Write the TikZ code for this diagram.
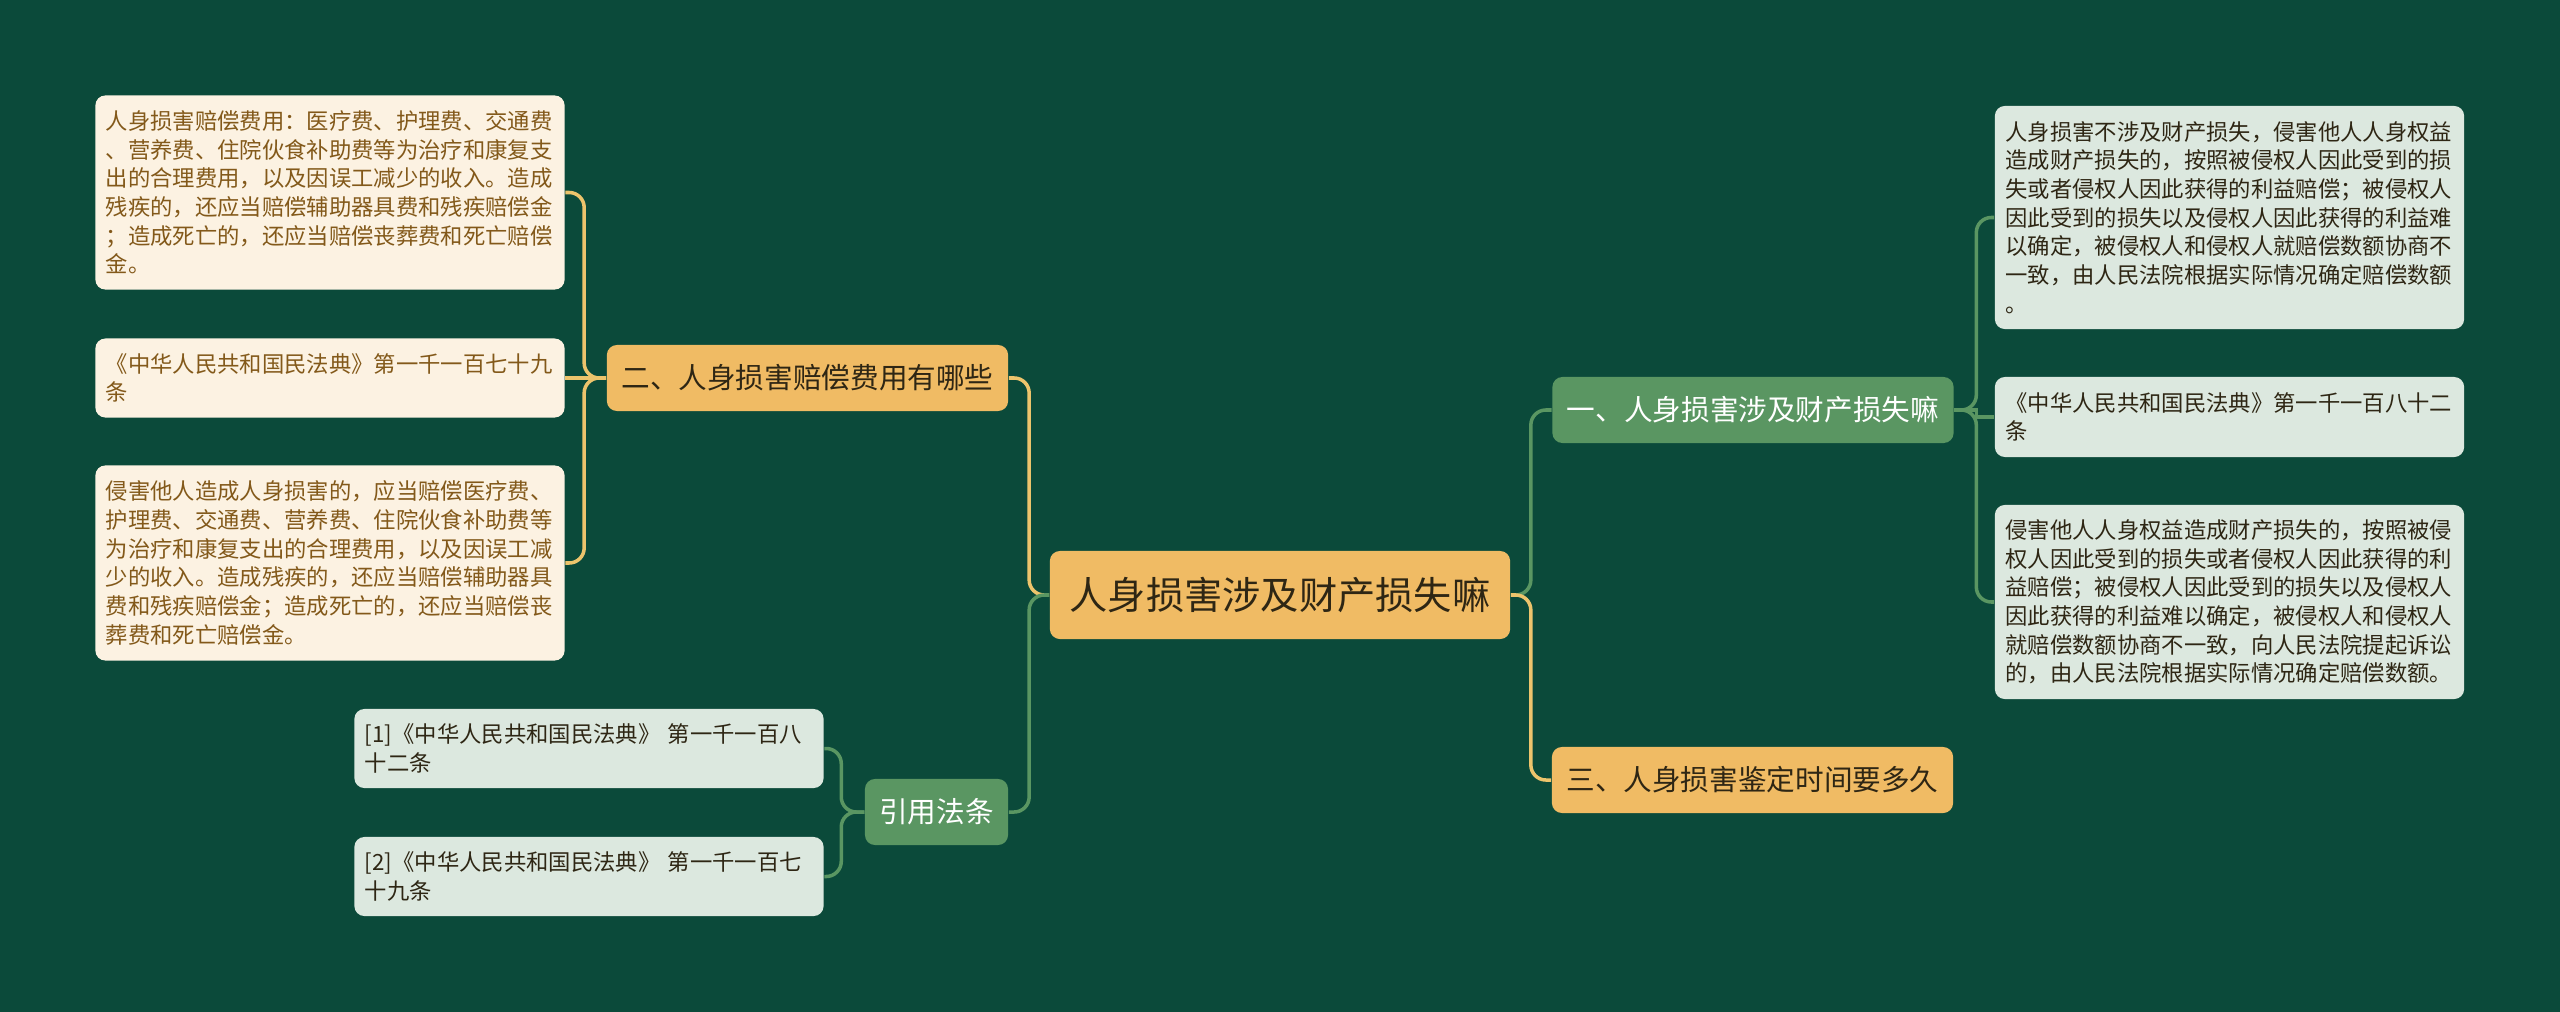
\documentclass[tikz,border=0pt]{standalone}
\usepackage{fontspec}
\setmainfont{Noto Sans CJK SC}
\definecolor{bgcol}{HTML}{0B4A3A}
\definecolor{orangecol}{HTML}{F0BB64}
\definecolor{greencol}{HTML}{5A9662}
\definecolor{creamcol}{HTML}{FCF2E2}
\definecolor{palecol}{HTML}{DCE8DF}
\definecolor{browntext}{HTML}{83591A}
\definecolor{darktext}{HTML}{2E2614}
\definecolor{yellowline}{HTML}{EDC46C}

\begin{document}
\begin{tikzpicture}[x=0.01cm, y=-0.01cm,
		box/.style={rounded corners=0.1cm, inner sep=0pt, align=center},
		rootbox/.style={box, fill=orangecol, text=darktext, minimum width=4.6cm, minimum height=0.88cm, font=\fontsize{10.87}{13}\selectfont},
		orangebox/.style={box, fill=orangecol, text=darktext, minimum width=4.01cm, minimum height=0.66cm, font=\fontsize{8.14}{10}\selectfont},
		greenbox/.style={box, fill=greencol, text=white, minimum width=4.01cm, minimum height=0.66cm, font=\fontsize{8.14}{10}\selectfont},
		leafbox/.style={rounded corners=0.1cm, inner xsep=0.105cm, inner ysep=0pt, text width=4.48cm, align=left, font=\fontsize{6.35}{8.15}\selectfont},
		creamleaf/.style={leafbox, fill=creamcol, text=browntext},
		paleleaf/.style={leafbox, fill=palecol, text=darktext},
		yellowlink/.style={draw=yellowline, line width=1pt, rounded corners=0.15cm},
		greenlink/.style={draw=greencol, line width=1pt, rounded corners=0.15cm}]
		\fill [bgcol] (0,0) rectangle (2560,1012);
		\useasboundingbox (0,0) rectangle (2560,1012);

		\node (root) at (1280,595) [rootbox] {人身损害涉及财产损失嘛};

		\node (costs) at (807.5,378) [orangebox] {二、人身损害赔偿费用有哪些};
		\node (cite) at (936.5,812) [greenbox, minimum width=1.43cm] {引用法条};
		\node (loss) at (1753,410) [greenbox] {一、人身损害涉及财产损失嘛};
		\node (time) at (1752.5,780) [orangebox] {三、人身损害鉴定时间要多久};

		\node (costa) at (330,192.5) [creamleaf, minimum height=1.94cm] {人身损害赔偿费用：医疗费、护理费、交通费\\、营养费、住院伙食补助费等为治疗和康复支\\出的合理费用，以及因误工减少的收入。造成\\残疾的，还应当赔偿辅助器具费和残疾赔偿金\\；造成死亡的，还应当赔偿丧葬费和死亡赔偿\\金。};
		\node (costb) at (330,378) [creamleaf, minimum height=0.79cm] {《中华人民共和国民法典》第一千一百七十九\\条};
		\node (costc) at (330,563) [creamleaf, minimum height=1.95cm] {侵害他人造成人身损害的，应当赔偿医疗费、\\护理费、交通费、营养费、住院伙食补助费等\\为治疗和康复支出的合理费用，以及因误工减\\少的收入。造成残疾的，还应当赔偿辅助器具\\费和残疾赔偿金；造成死亡的，还应当赔偿丧\\葬费和死亡赔偿金。};

		\node (citea) at (589,748.5) [paleleaf, minimum height=0.79cm] {[1]《中华人民共和国民法典》 第一千一百八\\十二条};
		\node (citeb) at (589,876.5) [paleleaf, minimum height=0.79cm] {[2]《中华人民共和国民法典》 第一千一百七\\十九条};

		\node (lossa) at (2229.5,217.5) [paleleaf, minimum height=2.23cm] {人身损害不涉及财产损失，侵害他人人身权益\\造成财产损失的，按照被侵权人因此受到的损\\失或者侵权人因此获得的利益赔偿；被侵权人\\因此受到的损失以及侵权人因此获得的利益难\\以确定，被侵权人和侵权人就赔偿数额协商不\\一致，由人民法院根据实际情况确定赔偿数额\\。};
		\node (lossb) at (2229.5,417) [paleleaf, minimum height=0.80cm] {《中华人民共和国民法典》第一千一百八十二\\条};
		\node (lossc) at (2229.5,602) [paleleaf, minimum height=1.94cm] {侵害他人人身权益造成财产损失的，按照被侵\\权人因此受到的损失或者侵权人因此获得的利\\益赔偿；被侵权人因此受到的损失以及侵权人\\因此获得的利益难以确定，被侵权人和侵权人\\就赔偿数额协商不一致，向人民法院提起诉讼\\的，由人民法院根据实际情况确定赔偿数额。};

		\draw [yellowlink] (root.west) -- ++(-20,0) |- (costs.east);
		\draw [greenlink] (root.west) -- ++(-20,0) |- (cite.east);
		\draw [greenlink] (root.east) -- ++(20,0) |- (loss.west);
		\draw [yellowlink] (root.east) -- ++(20,0) |- (time.west);

		\draw [yellowlink] (costs.west) -- ++(-22,0) |- (costa.east);
		\draw [yellowlink] (costs.west) -- (costb.east);
		\draw [yellowlink] (costs.west) -- ++(-22,0) |- (costc.east);

		\draw [greenlink] (cite.west) -- ++(-23,0) |- (citea.east);
		\draw [greenlink] (cite.west) -- ++(-23,0) |- (citeb.east);

		\draw [greenlink] (loss.east) -- ++(22,0) |- (lossa.west);
		\draw [greenlink, sharp corners] (loss.east) -- ++(22,0) |- (lossb.west);
		\draw [greenlink] (loss.east) -- ++(22,0) |- (lossc.west);
	\end{tikzpicture}
\end{document}
